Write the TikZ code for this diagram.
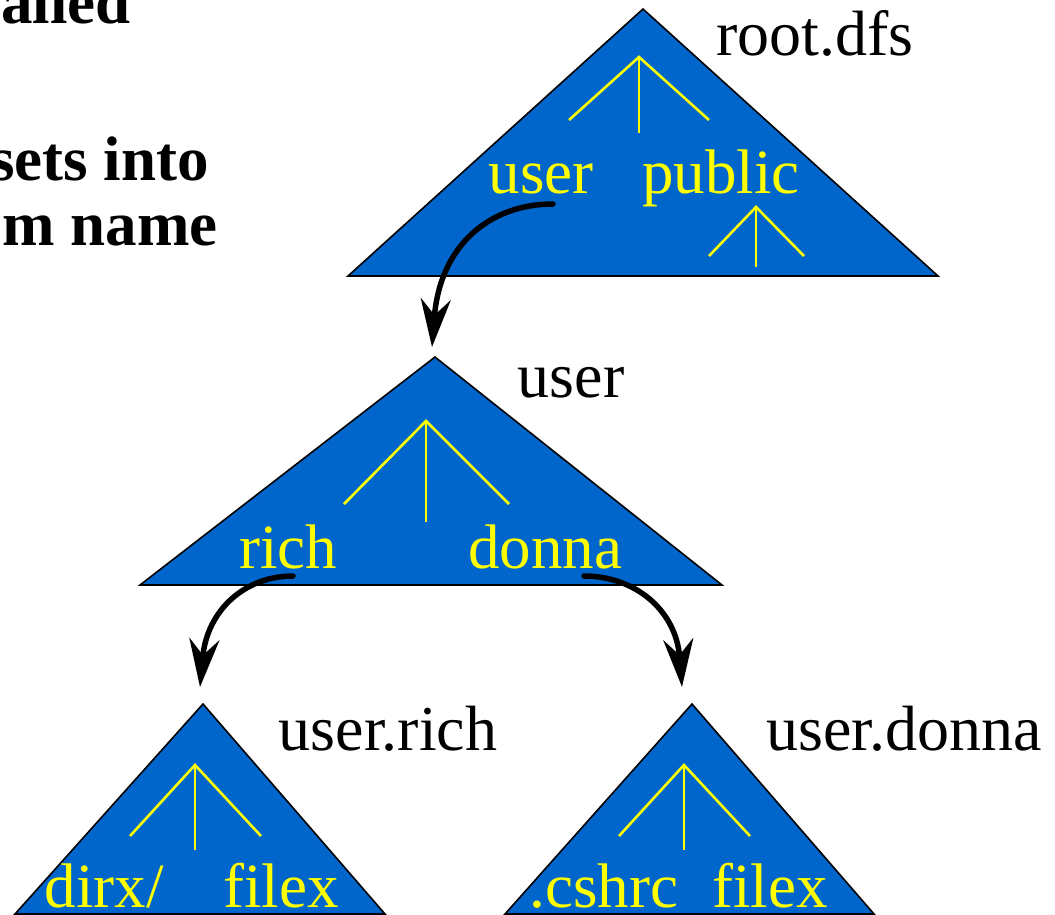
\documentclass[tikz,border=0pt]{standalone}
\usepackage{fontspec}
\setmainfont{Liberation Serif}
\usetikzlibrary{arrows.meta}
\definecolor{fsblue}{RGB}{0,102,204}
\definecolor{fsyellow}{RGB}{255,255,0}
\begin{document}
\begin{tikzpicture}[x=1pt,y=-1pt,
  volume/.style={fill=fsblue,draw=black,line width=1.6pt,line join=miter},
  dirtree/.style={draw=fsyellow,line width=2.6pt},
  entry/.style={text=fsyellow,font=\fontsize{63}{70}\selectfont,anchor=base,inner sep=0pt},
  volname/.style={text=black,font=\fontsize{64}{70}\selectfont,anchor=base,inner sep=0pt},
  heading/.style={font=\fontsize{63}{70}\selectfont\bfseries,anchor=base east,inner sep=0pt},
  mount/.style={line width=5.5pt,line cap=round,-{Stealth[length=48pt,width=30pt,inset=16pt]}}]
\useasboundingbox (0,0) rectangle (1055,914);
\clip (0,0) rectangle (1055,914);

% slide text running in from the left
\node[heading] (t1) at (131,23) {called};
\node[heading] (t2) at (209,180) {sets into};
\node[heading] (t3) at (218,245) {m name};

% volume root.dfs
\draw[volume] (643,9) -- (938,276) -- (348,276) -- cycle;
\node[volname] (vroot) at (815,55) {root.dfs};
\draw[dirtree] (569,120) -- (639,57) -- (709,120);
\draw[dirtree] (639,57) -- (639,133);
\node[entry] (eruser) at (541,193) {user};
\node[entry] (erpublic) at (721,193) {public};
\draw[dirtree] (709,256) -- (756,207) -- (804,256);
\draw[dirtree] (756,207) -- (756,267);

% volume user
\draw[volume] (435,357) -- (722,585) -- (140,585) -- cycle;
\node[volname] (vuser) at (571,397) {user};
\draw[dirtree] (344,504) -- (426,421) -- (509,504);
\draw[dirtree] (426,421) -- (426,522);
\node[entry] (eurich) at (288,568) {rich};
\node[entry] (eudonna) at (545,568) {donna};

% volume user.rich
\draw[volume] (203,704) -- (385,914) -- (15,914) -- cycle;
\node[volname] (vrich) at (388,750) {user.rich};
\draw[dirtree] (130,836) -- (195,765) -- (261,836);
\draw[dirtree] (195,765) -- (195,850);
\node[entry] (erdirx) at (104,907) {dirx/};
\node[entry] (erfilex) at (281,907) {filex};

% volume user.donna
\draw[volume] (692,704) -- (874,914) -- (505,914) -- cycle;
\node[volname] (vdonna) at (904,750) {user.donna};
\draw[dirtree] (619,836) -- (684,765) -- (750,836);
\draw[dirtree] (684,765) -- (684,850);
\node[entry] (edcshrc) at (604,907) {.cshrc};
\node[entry] (edfilex) at (770,907) {filex};

% mount points
\coordinate (m1a) at (553,204);
\coordinate (m1b) at (432,347);
\coordinate (m2a) at (293,576);
\coordinate (m2b) at (200,687);
\coordinate (m3a) at (584,576);
\coordinate (m3b) at (682,687);
\draw[mount] (m1a) .. controls (490,204) and (440,245) .. (m1b);
\draw[mount] (m2a) .. controls (245,576) and (207,610) .. (m2b);
\draw[mount] (m3a) .. controls (635,576) and (676,610) .. (m3b);
\end{tikzpicture}
\end{document}
